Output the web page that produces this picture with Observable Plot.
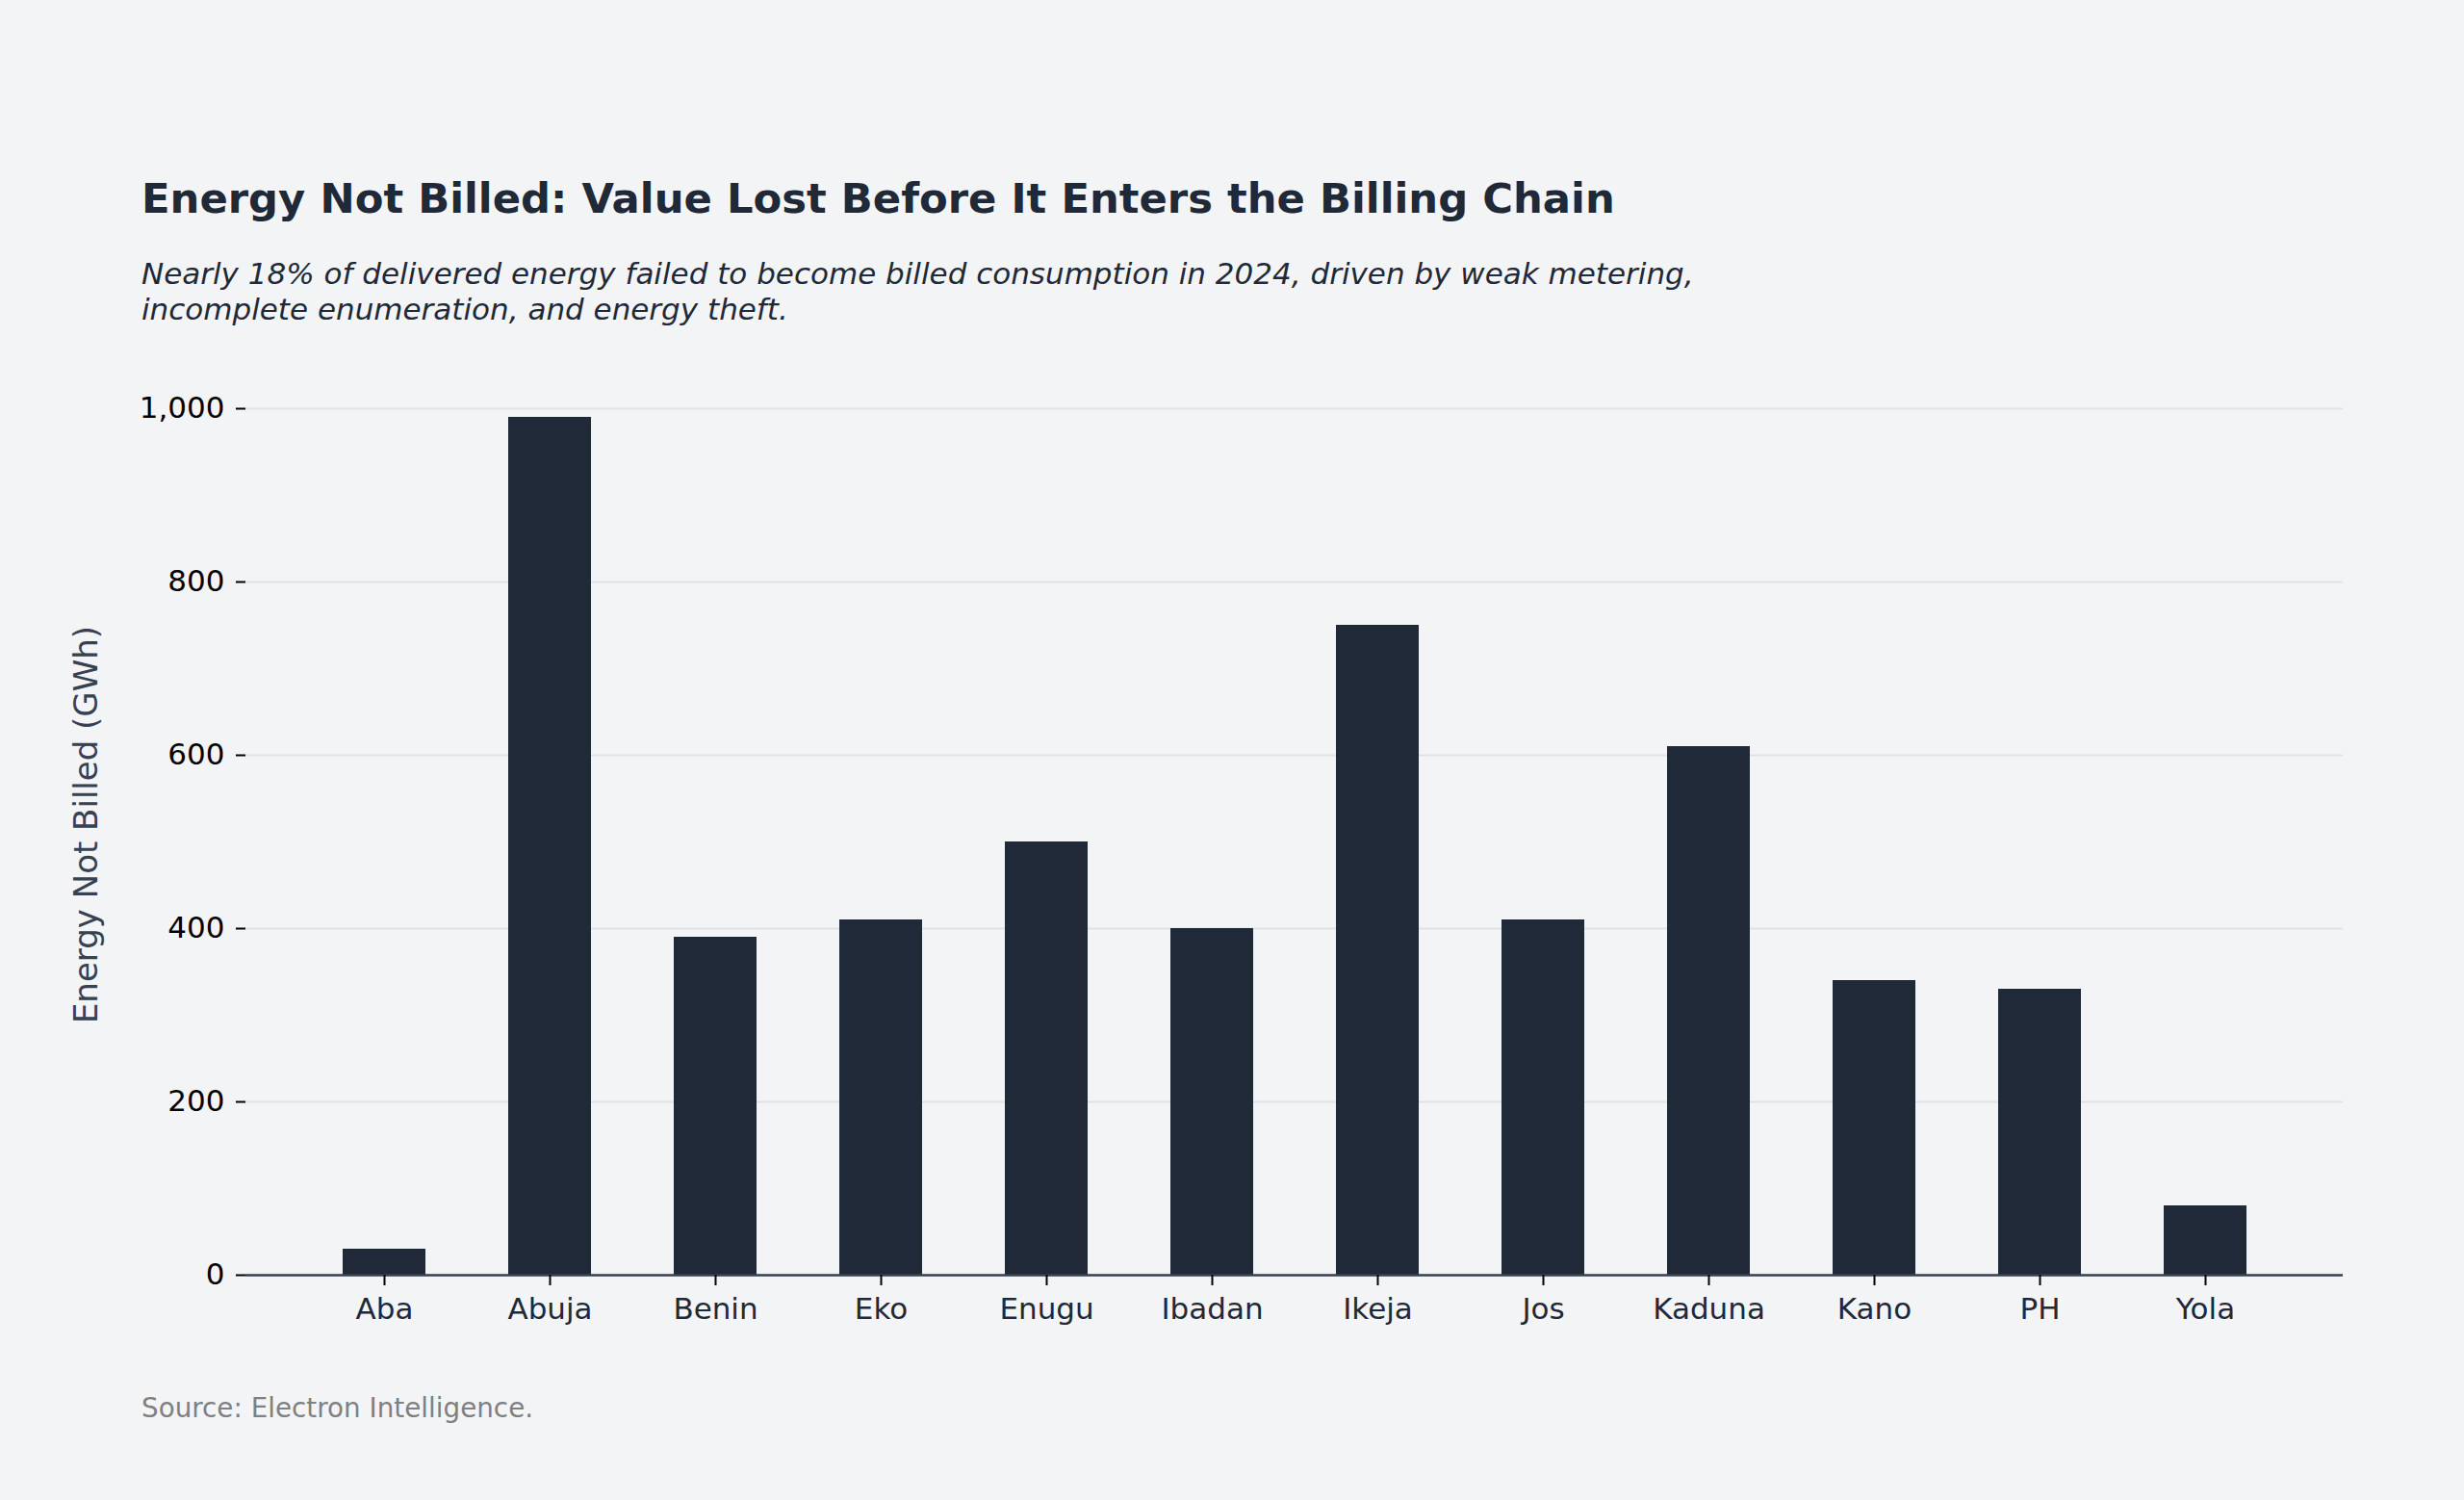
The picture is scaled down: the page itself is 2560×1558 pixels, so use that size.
<!DOCTYPE html>
<html>
<head>
<meta charset="utf-8">
<script src="https://cdn.jsdelivr.net/npm/d3@7"></script>
<script src="https://cdn.jsdelivr.net/npm/@observablehq/plot@0.6"></script>
<style>
  html, body { margin: 0; padding: 0; background: #f3f4f6; }
  body { width: 2560px; height: 1558px; position: relative; overflow: hidden; font-family: "DejaVu Sans", sans-serif; }
  #title { position: absolute; left: 147px; top: 185px; font-size: 43.3px; line-height: 43px; font-weight: bold; color: #1f2937; white-space: nowrap; }
  #subtitle { position: absolute; left: 147px; top: 266px; font-size: 31px; line-height: 37px; font-style: italic; color: #1f2937; white-space: nowrap; }
  #chart { position: absolute; left: 0; top: 360px; }
  #caption { position: absolute; left: 147px; top: 1449px; font-size: 27.8px; line-height: 28px; color: #808080; white-space: nowrap; }
</style>
</head>
<body>
<div id="title"></div>
<div id="subtitle"></div>
<div id="chart"></div>
<div id="caption"></div>
<script>
// ---- data ----
const titleText = "Energy Not Billed: Value Lost Before It Enters the Billing Chain";
const subtitleLines = [
  "Nearly 18% of delivered energy failed to become billed consumption in 2024, driven by weak metering,",
  "incomplete enumeration, and energy theft."
];
const captionText = "Source: Electron Intelligence.";
const yLabel = "Energy Not Billed (GWh)";

const discos = ["Aba", "Abuja", "Benin", "Eko", "Enugu", "Ibadan", "Ikeja", "Jos", "Kaduna", "Kano", "PH", "Yola"];
const notBilledGWh = [30, 990, 390, 410, 500, 400, 750, 410, 610, 340, 330, 80];
const yTicks = [0, 200, 400, 600, 800, 1000];

// ---- text ----
document.getElementById("title").textContent = titleText;
const sub = document.getElementById("subtitle");
subtitleLines.forEach((l, i) => {
  if (i) sub.appendChild(document.createElement("br"));
  sub.appendChild(document.createTextNode(l));
});
document.getElementById("caption").textContent = captionText;

const rows = discos.map((d, i) => ({disco: d, value: notBilledGWh[i]}));

const chart = Plot.plot({
  width: 2560,
  height: 1060,
  marginTop: 28,
  marginBottom: 96,
  marginLeft: 255,
  marginRight: 126,
  style: {background: "transparent", fontFamily: "DejaVu Sans, sans-serif", fontSize: "31px", color: "#1f2937"},
  x: {type: "band", domain: discos, paddingInner: 0.5, paddingOuter: 0.58, label: null},
  y: {domain: [0, 1040], label: null},
  marks: [
    Plot.gridY(yTicks, {stroke: "#dfe2e7", strokeOpacity: 1, strokeWidth: 2}),
    Plot.barY(rows, {x: "disco", y: "value", fill: "#1f2937"}),
    Plot.ruleY([0], {stroke: "#374151", strokeWidth: 2.5}),
    Plot.axisY({ticks: yTicks, tickFormat: d3.format(","), tickSize: 10, tickPadding: 12, strokeWidth: 2, stroke: "black", fill: "black", label: null}),
    Plot.axisX({tickSize: 11, tickPadding: 12, strokeWidth: 2, stroke: "black", fill: "#1f2937", label: null}),
    Plot.text([yLabel], {text: d => d, frameAnchor: "left", rotate: -90, dx: -165, fontSize: 34, fill: "#374151", textAnchor: "middle", lineAnchor: "middle"})
  ]
});
document.getElementById("chart").appendChild(chart);
</script>
</body>
</html>
